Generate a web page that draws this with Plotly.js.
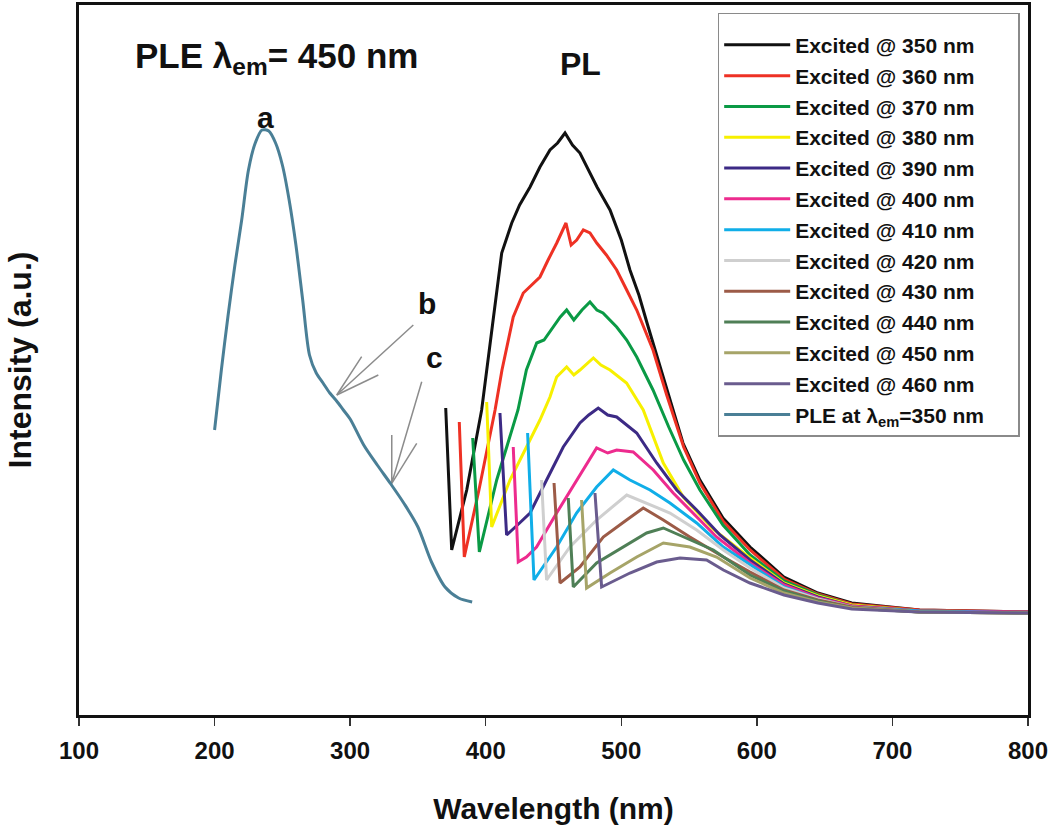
<!DOCTYPE html>
<html>
<head>
<meta charset="utf-8">
<script src="https://cdn.plot.ly/plotly-3.0.1.min.js"></script>
<style>
  html, body { margin: 0; padding: 0; background: #ffffff; }
  #chart { width: 1050px; height: 838px; }
</style>
</head>
<body>
<div id="chart"></div>
<script>
// ---- Data (intensity in arbitrary units) ----
const seriesNames = ["Excited @ 350 nm","Excited @ 360 nm","Excited @ 370 nm","Excited @ 380 nm",
  "Excited @ 390 nm","Excited @ 400 nm","Excited @ 410 nm","Excited @ 420 nm","Excited @ 430 nm",
  "Excited @ 440 nm","Excited @ 450 nm","Excited @ 460 nm"];
const pleName = "PLE at λ<sub>em</sub>=350 nm";

const ex350_x = [370.5,374.9,386,397,405,411.8,419.2,425,432.7,440,447.4,453,458.5,464,469.5,476,482.1,491.7,500,506.4,513,519,525,530.8,538,545.5,558,575,595,620,645,670,720,800];
const ex350_y = [307,165,225,305,390,462,492,510,528,548,565,572,582,570,562,545,528,505,475,445,420,392,365,338,305,272,235,197,168,138,122,112,105,103];

const ex360_x = [380.5,384.2,395,406.9,412,420.3,427.7,434,440,446,452.4,459.2,463,467.1,472,476.9,481.9,489,496.6,504,511.4,523.4,533.5,546,558,575,595,620,645,670,720,800];
const ex360_y = [293,158,225,305,345,398,422,430,438,455,472,492,470,475,485,482,472,460,445,425,405,365,320,268,232,194,165,136,121,111,105,103];

const ex370_x = [390.4,395.3,408.1,423.8,430,437.6,443,449.6,455,459.7,465,471,476.9,482,486.5,496.6,504,511.4,523.4,535,546,558,575,595,620,645,670,720,800];
const ex370_y = [277,163,235,305,345,372,375,388,398,405,395,405,413,405,402,388,375,358,325,288,255,225,190,160,134,120,110,104,103];

const ex380_x = [400.7,404.4,417.9,432.7,440,447.4,452.3,459.7,465,469.5,479.4,485,491.7,503.9,516.2,531,545.7,567.6,595,620,645,670,720,800];
const ex380_y = [313,188,235,275,295,318,338,348,340,345,357,350,345,332,305,252,218,186,157,132,119,110,104,103];

const ex390_x = [410.5,415.4,425,432.7,444.9,457.2,469.5,476,483,490,496.6,504,511.4,526.1,540.9,555.6,572.8,595,620,645,670,720,800];
const ex390_y = [302,180,192,202,235,268,292,300,307,300,298,290,282,252,225,205,180,155,131,118,109,104,103];

const ex400_x = [420.3,424.0,430,437.5,452.3,467.0,481.8,490,496.6,508.8,523.6,538.3,553.1,570.3,595,620,645,670,720,800];
const ex400_y = [268,153,158,168,202,235,267,262,265,263,245,222,202,178,152,130,117,109,104,103];

const ex410_x = [430.9,435.6,452.3,467.0,481.8,494.1,506.4,521.2,535.9,555.6,575.3,595,620,645,670,720,800];
const ex410_y = [282,135,168,202,228,245,235,225,212,192,168,150,128,116,108,104,102];

const ex420_x = [441.2,444.9,462.1,481.8,504.0,518.7,535.9,555.6,575.3,595,620,645,670,720,800];
const ex420_y = [235,135,168,195,220,212,202,185,165,147,127,116,108,103,102];

const ex430_x = [450.4,454.8,469.5,486.7,503.9,516.2,531.0,550.6,575.3,595,620,645,670,720,800];
const ex430_y = [232,132,148,178,195,207,195,178,158,143,125,115,108,103,102];

const ex440_x = [460.9,464.6,481.8,501.5,518.7,531.0,545.7,567.9,595,620,645,670,720,800];
const ex440_y = [217,128,152,168,182,187,178,165,140,124,114,107,103,102];

const ex450_x = [470.7,474.4,491.7,511.4,531.0,550.6,570.3,595,620,645,670,720,800];
const ex450_y = [215,127,142,158,172,168,158,137,122,113,107,103,102];

const ex460_x = [480.6,485.5,506.4,526.1,543.3,562.9,575.3,594.9,620,645,670,720,800];
const ex460_y = [222,128,142,153,157,155,145,132,120,112,106,103,102];

const ple_x = [200,205,210,215,220,225,230,235,240,245,250,255,260,265,270,275,280,285,290,295,300,310,320,330,340,350,360,370,380,390];
const ple_y = [285,345,400,450,495,545,572,585,584,572,550,515,470,415,360,342,332,322,314,305,296,270,250,231,211,188,153,128,117,113];

// annotation arrows (tail -> tip, then the two barbs of the open head)
const arrowB_x = [346.6, 290.1, 308.5, null, 290.1, 320.8];
const arrowB_y = [390, 320, 358.3, null, 320, 340];
const arrowC_x = [352.8, 330.7, 330.7, null, 330.7, 349.1];
const arrowC_y = [333.3, 231.7, 280, null, 231.7, 271.7];

const xTicks = [100,200,300,400,500,600,700,800];

// ---- Styles ----
const colors = ["#111111","#ee3124","#0a9a45","#f7f000","#3c2a85","#ed2b8e","#10aee8",
  "#cfcfcf","#9c5b47","#4f7f56","#a6a468","#6a5c8e"];
const pleColor = "#4a7f96";
const FONT = "Liberation Sans, Arial, Helvetica, sans-serif";
const PAD = "\u00a0\u00a0\u00a0\u00a0\u00a0";

const xs = [ex350_x,ex360_x,ex370_x,ex380_x,ex390_x,ex400_x,ex410_x,ex420_x,ex430_x,ex440_x,ex450_x,ex460_x];
const ys = [ex350_y,ex360_y,ex370_y,ex380_y,ex390_y,ex400_y,ex410_y,ex420_y,ex430_y,ex440_y,ex450_y,ex460_y];

const traces = [];
traces.push({ x: arrowB_x, y: arrowB_y, type: "scatter", mode: "lines", showlegend: false,
  hoverinfo: "skip", line: { color: "#8c8c8c", width: 1.5 } });
traces.push({ x: arrowC_x, y: arrowC_y, type: "scatter", mode: "lines", showlegend: false,
  hoverinfo: "skip", line: { color: "#8c8c8c", width: 1.5 } });
for (let i = 0; i < seriesNames.length; i++) {
  traces.push({
    x: xs[i], y: ys[i], type: "scatter", mode: "lines", name: seriesNames[i] + PAD,
    legendgroup: "g" + i,
    line: { color: colors[i], width: 3 }
  });
}
traces.push({
  x: ple_x, y: ple_y, type: "scatter", mode: "lines", name: pleName + PAD,
  legendgroup: "gple",
  line: { color: pleColor, width: 3, shape: "spline", smoothing: 0.8 }
});

const bold = (size) => ({ family: FONT, size: size, color: "#111111", weight: 700 });

const layout = {
  width: 1050, height: 838,
  margin: { l: 79, r: 22, t: 5, b: 123 },
  paper_bgcolor: "#ffffff", plot_bgcolor: "#ffffff",
  showlegend: true,
  legend: {
    x: 0.673, xanchor: "left", y: 0.989, yanchor: "top",
    bordercolor: "#8a8a8a", borderwidth: 1.5, bgcolor: "#ffffff",
    font: bold(21), tracegroupgap: 0.5, itemwidth: 66,
    title: { text: "\u00a0", font: { family: FONT, size: 8, color: "#ffffff" } }
  },
  xaxis: {
    range: [100, 800], tickmode: "array", tickvals: xTicks, ticktext: xTicks.map(String),
    ticks: "outside", ticklen: 8, tickwidth: 1.5, tickcolor: "#333",
    ticklabelstandoff: 4,
    showline: true, linecolor: "#111", linewidth: 3, mirror: true,
    showgrid: false, zeroline: false,
    tickfont: bold(24),
    title: { text: "Wavelength (nm)", font: bold(30), standoff: 36 }
  },
  yaxis: {
    range: [0, 710], showticklabels: false, ticks: "",
    showline: true, linecolor: "#111", linewidth: 3, mirror: true,
    showgrid: false, zeroline: false,
    title: { text: "Intensity (a.u.)", font: bold(32), standoff: 35 }
  },
  annotations: [
    { x: 246, y: 657, xref: "x", yref: "y", text: "PLE λ<sub>em</sub>= 450 nm", showarrow: false, font: bold(35) },
    { x: 470, y: 651, xref: "x", yref: "y", text: "PL", showarrow: false, font: bold(32) },
    { x: 237.2, y: 598, xref: "x", yref: "y", text: "a", showarrow: false, font: bold(30) },
    { x: 356.7, y: 412, xref: "x", yref: "y", text: "b", showarrow: false, font: bold(30) },
    { x: 361.9, y: 358, xref: "x", yref: "y", text: "c", showarrow: false, font: bold(30) }
  ]
};

Plotly.newPlot("chart", traces, layout, { displayModeBar: false, staticPlot: true });
</script>
</body>
</html>
